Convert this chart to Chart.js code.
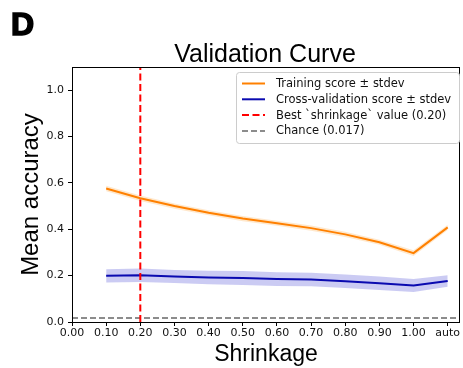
<!DOCTYPE html>
<html>
<head>
<meta charset="utf-8">
<script src="https://cdn.jsdelivr.net/npm/chart.js@4"></script>
<style>
  html, body { margin: 0; padding: 0; background: #fff; }
</style>
</head>
<body>
<canvas id="curveChart" width="463" height="368"></canvas>
<script>
// values
const panelLetter = "D";
const chartTitle = "Validation Curve";
const xTitle = "Shrinkage";
const yTitle = "Mean accuracy";
const shrinkage = ["0.10", "0.20", "0.30", "0.40", "0.50", "0.60", "0.70", "0.80", "0.90", "1.00", "auto"];
const xTickLabels = ["0.00", ...shrinkage];
const trainMean = [0.576, 0.534, 0.500, 0.471, 0.446, 0.426, 0.405, 0.378, 0.344, 0.297, 0.408];
const trainStd = [0.012, 0.012, 0.011, 0.011, 0.011, 0.011, 0.011, 0.011, 0.011, 0.012, 0.011];
const cvMean = [0.199, 0.202, 0.196, 0.192, 0.190, 0.185, 0.183, 0.176, 0.167, 0.157, 0.177];
const cvStd = [0.029, 0.029, 0.028, 0.029, 0.030, 0.030, 0.029, 0.029, 0.029, 0.028, 0.025];
const bestShrinkage = "0.20";
const chanceLevel = 0.017;
const yTicks = [0, 0.2, 0.4, 0.6, 0.8, 1.0];
const legendLabels = [
  "Training score \u00b1 stdev",
  "Cross-validation score \u00b1 stdev",
  "Best `shrinkage` value (0.20)",
  "Chance (0.017)"
];

const X_MAX = 11.36;
const Y_MAX = 1.1;

const ORANGE = "#ff8000";
const NAVY = "#0a0ab0";

const pos = (i) => xTickLabels.indexOf(shrinkage[i]);
const pts = (vals) => vals.map((v, i) => ({ x: pos(i), y: v }));
const bestX = xTickLabels.indexOf(bestShrinkage);

const band = (vals, fill, color) => ({
  data: pts(vals),
  borderWidth: 0,
  pointRadius: 0,
  fill: fill,
  backgroundColor: color,
  order: 10
});

// frame, panel letter, title and in-axes legend
const extras = {
  id: "extras",
  afterDraw(chart) {
    const { ctx, chartArea: a } = chart;
    ctx.save();
    ctx.strokeStyle = "#000";
    ctx.lineWidth = 1;
    ctx.strokeRect(Math.round(a.left) + 0.5, Math.round(a.top) + 0.5,
      Math.round(a.right - a.left) - 1, Math.round(a.bottom - a.top));

    ctx.fillStyle = "#000";
    ctx.font = "bold 32px 'Liberation Sans'";
    ctx.textBaseline = "alphabetic";
    ctx.lineWidth = 1.6;
    ctx.strokeText(panelLetter, 11, 35);
    ctx.fillText(panelLetter, 11, 35);

    ctx.font = "25px 'Liberation Sans'";
    ctx.textAlign = "center";
    ctx.fillText(chartTitle, 265, 62);

    // legend
    const bx = 236, by = 72, bw = 223, bh = 71;
    ctx.fillStyle = "rgba(255,255,255,0.85)";
    ctx.strokeStyle = "#cccccc";
    ctx.lineWidth = 1;
    ctx.beginPath();
    ctx.roundRect(bx + 0.5, by + 0.5, bw, bh, 3);
    ctx.fill();
    ctx.stroke();
    ctx.textAlign = "left";
    ctx.textBaseline = "middle";
    ctx.font = "11.5px 'DejaVu Sans'";
    legendLabels.forEach((lab, k) => {
      const ds = chart.data.datasets.find((d) => d.label === lab);
      const y = 83.5 + k * 15.8;
      ctx.strokeStyle = ds.borderColor;
      ctx.lineWidth = ds.borderWidth;
      ctx.setLineDash(ds.borderDash || []);
      ctx.beginPath();
      ctx.moveTo(242, y);
      ctx.lineTo(265, y);
      ctx.stroke();
      ctx.setLineDash([]);
      ctx.fillStyle = "#111";
      ctx.fillText(lab, 276, y + 0.5);
    });
    ctx.restore();
  }
};

const chart = new Chart(document.getElementById("curveChart"), {
  type: "line",
  data: {
    datasets: [
      band(trainMean.map((m, i) => m + trainStd[i]), false, "transparent"),
      band(trainMean.map((m, i) => m - trainStd[i]), "-1", "rgba(255,140,0,0.2)"),
      band(cvMean.map((m, i) => m + cvStd[i]), false, "transparent"),
      band(cvMean.map((m, i) => m - cvStd[i]), "-1", "rgba(20,20,200,0.22)"),
      {
        label: legendLabels[0],
        data: pts(trainMean),
        borderColor: ORANGE,
        borderWidth: 2,
        pointRadius: 0,
        order: 2
      },
      {
        label: legendLabels[1],
        data: pts(cvMean),
        borderColor: NAVY,
        borderWidth: 2,
        pointRadius: 0,
        order: 2
      },
      {
        label: legendLabels[2],
        data: [{ x: bestX, y: 0 }, { x: bestX, y: Y_MAX }],
        borderColor: "#ff0000",
        borderWidth: 2,
        borderDash: [7, 3.5],
        pointRadius: 0,
        order: 0
      },
      {
        label: legendLabels[3],
        data: [{ x: 0, y: chanceLevel }, { x: X_MAX, y: chanceLevel }],
        borderColor: "#8c8c8c",
        borderWidth: 2,
        borderDash: [6, 3],
        pointRadius: 0,
        order: 1
      }
    ]
  },
  options: {
    responsive: false,
    animation: false,
    layout: { padding: { left: 0, top: 67, right: 3, bottom: 0 } },
    plugins: {
      legend: { display: false },
      tooltip: { enabled: false },
      title: { display: false }
    },
    scales: {
      x: {
        type: "linear",
        min: 0,
        max: X_MAX,
        afterBuildTicks: (s) => { s.ticks = xTickLabels.map((_, i) => ({ value: i })); },
        afterFit: (s) => { s.height = 46; },
        border: { display: false },
        grid: { drawOnChartArea: false, drawTicks: true, tickLength: 4, color: "#000" },
        ticks: {
          autoSkip: false,
          maxRotation: 0,
          padding: 1,
          color: "#111",
          font: { family: "DejaVu Sans", size: 11 },
          callback: (v) => xTickLabels[v]
        },
        title: {
          display: true,
          text: xTitle,
          color: "#000",
          font: { family: "Liberation Sans", size: 23, lineHeight: 1.2 },
          padding: { top: 0, bottom: 0 }
        }
      },
      y: {
        min: 0,
        max: Y_MAX,
        afterBuildTicks: (s) => { s.ticks = yTicks.map((v) => ({ value: v })); },
        afterFit: (s) => { s.width = 72; },
        border: { display: false },
        grid: { drawOnChartArea: false, drawTicks: true, tickLength: 4, color: "#000" },
        ticks: {
          padding: 4,
          color: "#111",
          font: { family: "DejaVu Sans", size: 11 },
          callback: (v) => v.toFixed(1)
        },
        title: {
          display: true,
          text: yTitle,
          color: "#000",
          font: { family: "Liberation Sans", size: 24, lineHeight: 1.2 },
          padding: { top: 17, bottom: 0 }
        }
      }
    }
  },
  plugins: [extras]
});
</script>
</body>
</html>
